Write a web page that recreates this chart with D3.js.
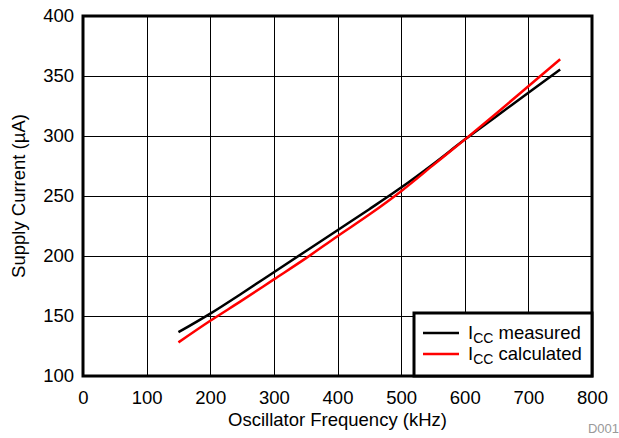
<!DOCTYPE html>
<html>
<head>
<meta charset="utf-8">
<script src="https://cdn.jsdelivr.net/npm/d3@7"></script>
<style>
  body { margin: 0; background: #fff; }
  text { font-family: "Liberation Sans", Arial, sans-serif; }
</style>
</head>
<body>
<svg id="chart"></svg>
<script>
////////////////// data ////////////////////
const freqs = [150, 200, 250, 300, 350, 400, 450, 500, 550, 600, 650, 700, 750];
const iccMeasured = [136.5, 152, 169, 186.5, 204, 221.5, 239, 257, 276.5, 297, 316.5, 336, 355.5];
const iccCalculated = [128, 146, 163, 180.5, 198, 216.5, 234.5, 254, 275.5, 297, 319, 341.5, 364];
const xTicks = [0, 100, 200, 300, 400, 500, 600, 700, 800];
const yTicks = [100, 150, 200, 250, 300, 350, 400];
const seriesNames = ["measured", "calculated"];
const seriesColors = ["#000000", "#ff0000"];

// chart layout
const width = 619, height = 438;
const plot = { left: 83, right: 592, top: 16, bottom: 376 };
const fontSize = 18.5;

const svg = d3.select("#chart")
    .attr("width", width)
    .attr("height", height);

const x = d3.scaleLinear().domain([0, 800]).range([plot.left, plot.right]);
const y = d3.scaleLinear().domain([100, 400]).range([plot.bottom, plot.top]);

// grid
const grid = svg.append("g").attr("class", "grid");
grid.selectAll("line.v")
    .data(xTicks.slice(1, -1))
    .enter().append("line")
    .attr("x1", d => Math.round(x(d)) + 0.5)
    .attr("x2", d => Math.round(x(d)) + 0.5)
    .attr("y1", plot.top)
    .attr("y2", plot.bottom)
    .attr("stroke", "#000")
    .attr("stroke-width", 1);
grid.selectAll("line.h")
    .data(yTicks.slice(1, -1))
    .enter().append("line")
    .attr("y1", d => Math.round(y(d)) + 0.5)
    .attr("y2", d => Math.round(y(d)) + 0.5)
    .attr("x1", plot.left)
    .attr("x2", plot.right)
    .attr("stroke", "#000")
    .attr("stroke-width", 1);

// axes (labels only, frame drawn separately)
const xAxis = svg.append("g")
    .attr("transform", `translate(0,${plot.bottom})`)
    .call(d3.axisBottom(x).tickValues(xTicks).tickSize(0).tickPadding(15));
const yAxis = svg.append("g")
    .attr("transform", `translate(${plot.left},0)`)
    .call(d3.axisLeft(y).tickValues(yTicks).tickSize(0).tickPadding(9));
[xAxis, yAxis].forEach(a => {
    a.select(".domain").remove();
    a.selectAll("text")
        .attr("font-size", fontSize)
        .attr("fill", "#000")
        .style("font-family", "'Liberation Sans', Arial, sans-serif");
});

// series
const line = d3.line()
    .x(d => x(d[0]))
    .y(d => y(d[1]))
    .curve(d3.curveMonotoneX);
const seriesData = [iccMeasured, iccCalculated];
svg.append("g").selectAll("path")
    .data(seriesData)
    .enter().append("path")
    .attr("d", vals => line(freqs.map((f, i) => [f, vals[i]])))
    .attr("fill", "none")
    .attr("stroke", (d, i) => seriesColors[i])
    .attr("stroke-width", 2.5)
    .attr("stroke-linejoin", "round");

// frame
svg.append("rect")
    .attr("x", plot.left)
    .attr("y", plot.top)
    .attr("width", plot.right - plot.left)
    .attr("height", plot.bottom - plot.top)
    .attr("fill", "none")
    .attr("stroke", "#000")
    .attr("stroke-width", 3);

// legend
const legend = svg.append("g");
legend.append("rect")
    .attr("x", 414)
    .attr("y", 313)
    .attr("width", plot.right - 414)
    .attr("height", plot.bottom - 313)
    .attr("fill", "#fff")
    .attr("stroke", "#000")
    .attr("stroke-width", 3);
seriesNames.forEach((name, i) => {
    const ly = 333 + i * 21;
    legend.append("line")
        .attr("x1", 423).attr("x2", 459)
        .attr("y1", ly).attr("y2", ly)
        .attr("stroke", seriesColors[i])
        .attr("stroke-width", 2.5);
    const t = legend.append("text")
        .attr("x", 468)
        .attr("y", ly + 6)
        .attr("font-size", fontSize)
        .attr("fill", "#000");
    t.append("tspan").text("I");
    t.append("tspan").attr("dy", 4).attr("font-size", 14).text("CC");
    t.append("tspan").attr("dy", -4).text(" " + name);
});

// axis titles
svg.append("text")
    .attr("x", (plot.left + plot.right) / 2)
    .attr("y", 426)
    .attr("text-anchor", "middle")
    .attr("font-size", fontSize)
    .text("Oscillator Frequency (kHz)");
svg.append("text")
    .attr("transform", `translate(25,${(plot.top + plot.bottom) / 2}) rotate(-90)`)
    .attr("text-anchor", "middle")
    .attr("font-size", fontSize)
    .text("Supply Current (µA)");

svg.append("text")
    .attr("x", 619)
    .attr("y", 433)
    .attr("text-anchor", "end")
    .attr("font-size", 13)
    .attr("fill", "#999")
    .text("D001");
</script>
</body>
</html>
